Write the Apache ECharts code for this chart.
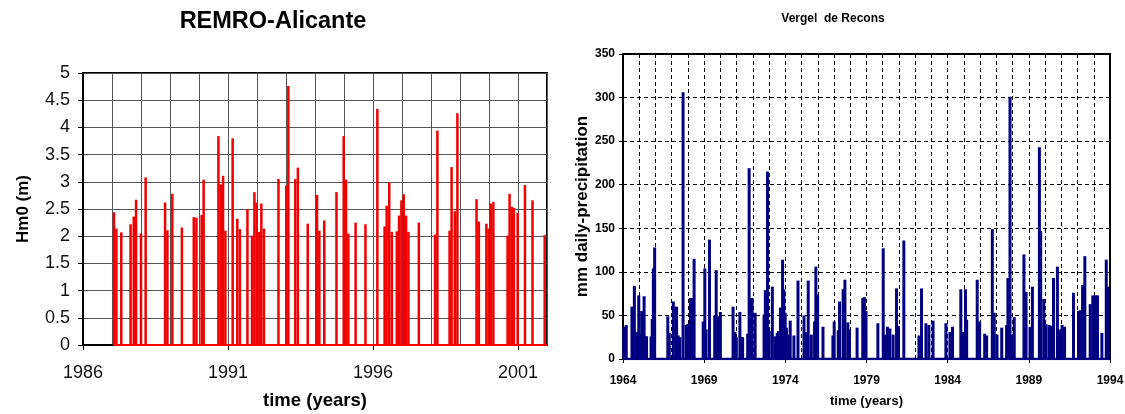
<!DOCTYPE html>
<html><head><meta charset="utf-8">
<script src="https://cdn.jsdelivr.net/npm/echarts@6/dist/echarts.min.js"></script>
<style>html,body{margin:0;padding:0;background:#fff}#c{width:1125px;height:414px}</style>
</head><body><div id="c"></div>
<script>
// ---- REMRO-Alicante: storm peaks (Hm0, m) ----
const waveTime = [1987.07,1987.15,1987.32,1987.64,1987.75,1987.83,1988.00,1988.16,1988.83,1988.91,
  1989.08,1989.41,1989.82,1989.91,1990.09,1990.16,1990.67,1990.75,1990.83,1990.91,
  1991.16,1991.32,1991.41,1991.67,1991.83,1991.91,1991.99,1992.08,1992.15,1992.24,
  1992.74,1993.01,1993.08,1993.32,1993.41,1993.75,1994.07,1994.15,1994.32,1994.74,
  1994.99,1995.07,1995.15,1995.40,1995.74,1996.15,1996.40,1996.47,1996.56,1996.65,
  1996.82,1996.90,1996.98,1997.06,1997.14,1997.22,1997.58,1998.14,1998.22,1998.64,
  1998.71,1998.82,1998.91,1999.57,1999.65,1999.91,1999.99,2000.06,2000.15,2000.64,
  2000.71,2000.79,2000.86,2000.99,2001.24,2001.50,2001.92];
const waveHm0 = [2.44,2.14,2.07,2.22,2.36,2.67,2.05,3.08,2.62,2.11,
  2.78,2.16,2.35,2.34,2.39,3.04,3.84,2.95,3.11,2.10,
  3.80,2.32,2.13,2.50,2.01,2.81,2.62,2.08,2.60,2.14,
  3.05,2.93,4.76,3.05,3.26,2.23,2.76,2.10,2.29,2.81,
  3.84,3.04,2.05,2.25,2.22,4.34,2.18,2.56,2.99,2.08,
  2.09,2.38,2.66,2.77,2.38,2.08,2.25,2.03,3.94,2.10,
  3.27,2.46,4.26,2.68,2.27,2.23,2.14,2.60,2.63,2.01,
  2.78,2.54,2.52,2.43,2.94,2.66,2.02];
const waveBaselineTime = [1987.05, 2002];
const waveTickYears = [1986, 1991, 1996, 2001];

// ---- Vergel de Recons: daily precipitation (mm) ----
const rainTime = [1964.05,1964.2,1964.55,1964.7,1964.85,1964.97,1965.05,1965.15,1965.3,1965.38,
  1965.45,1965.73,1965.8,1965.87,1965.95,1966.76,1966.85,1967.1,1967.25,1967.3,
  1967.4,1967.5,1967.7,1967.89,1967.97,1968.07,1968.15,1968.23,1968.3,1968.38,
  1968.94,1969.04,1969.12,1969.33,1969.65,1969.74,1969.82,1969.92,1970.0,1970.78,
  1970.9,1970.98,1971.2,1971.29,1971.37,1971.68,1971.77,1971.87,1971.95,1972.14,
  1972.69,1972.77,1972.9,1973.01,1973.2,1973.38,1973.5,1973.58,1973.7,1973.83,
  1973.91,1973.99,1974.07,1974.17,1974.3,1974.53,1974.78,1975.15,1975.29,1975.41,
  1975.6,1975.8,1975.88,1975.99,1976.32,1976.93,1977.01,1977.26,1977.34,1977.56,
  1977.67,1977.85,1977.95,1978.42,1978.77,1978.87,1978.97,1979.70,1980.03,1980.15,
  1980.29,1980.44,1980.64,1980.85,1980.97,1981.3,1982.23,1982.39,1982.66,1982.84,
  1983.1,1983.89,1984.14,1984.3,1984.81,1984.96,1985.1,1985.17,1985.82,1985.97,
  1986.28,1986.4,1986.75,1986.87,1987.04,1987.33,1987.63,1987.71,1987.84,1987.96,
  1988.1,1988.7,1988.83,1989.07,1989.22,1989.65,1989.73,1989.92,1990.06,1990.25,
  1990.39,1990.52,1990.76,1990.89,1991.05,1991.2,1991.75,1992.06,1992.16,1992.31,
  1992.45,1992.78,1992.94,1993.09,1993.23,1993.5,1993.77,1993.89];
const rainMm = [37,39,60,84,31,73,28,55,72,26,
  26,26,46,104,128,49,30,66,60,60,
  27,25,306,39,40,31,70,70,31,115,
  43,104,34,137,50,102,49,36,54,60,
  31,25,54,25,25,29,219,70,70,53,
  51,79,215,32,83,26,30,32,59,114,
  80,53,36,28,44,27,90,50,31,90,
  28,43,106,74,37,27,43,33,66,80,
  91,42,34,36,70,71,55,41,127,28,
  37,35,28,81,38,136,27,81,41,39,
  44,41,31,37,80,31,80,45,91,43,
  29,27,149,53,28,36,39,93,301,28,
  48,120,77,37,83,243,147,69,40,39,
  38,93,106,34,39,37,76,55,56,85,
  118,63,73,73,73,30,114,83];
const rainBaselineTime = [1964, 1994];
const rainTickYears = [1964, 1969, 1974, 1979, 1984, 1989, 1994];

const leftFont = 'Liberation Sans, Arial, sans-serif';
const rightFont = 'Liberation Sans Narrow, Liberation Sans, Arial, sans-serif';
const plain = v => String(v);

// grid-line axis (every year) + label axis (every 5 years) for each panel
function gridAxis(gi, min, max, color, type) {
  return {type: 'value', gridIndex: gi, position: 'bottom', min: min, max: max, interval: 1,
    axisLine: {show: true, onZero: false, lineStyle: {color: '#000', width: 2}},
    axisTick: {show: false}, axisLabel: {show: false},
    splitLine: {show: true, lineStyle: {color: color, width: 1, type: type}}};
}

const chart = echarts.init(document.getElementById('c'), null, {renderer: 'canvas'});
chart.setOption({
  animation: false,
  backgroundColor: '#fff',
  title: [
    {text: 'REMRO-Alicante', left: 268, top: 5, textAlign: 'center',
     textStyle: {fontFamily: leftFont, fontWeight: 'bold', fontSize: 23.5, color: '#000'}},
    {text: 'Vergel  de Recons', left: 828, top: 8, textAlign: 'center',
     textStyle: {fontFamily: rightFont, fontWeight: 'bold', fontSize: 12, color: '#000'}}
  ],
  grid: [
    {left: 83, top: 73, width: 464, height: 272, show: true, borderColor: '#000', borderWidth: 2,
     backgroundColor: '#fff', containLabel: false, outerBoundsMode: 'none'},
    {left: 623, top: 54, width: 487, height: 305, show: true, borderColor: '#000', borderWidth: 2,
     backgroundColor: '#fff', containLabel: false, outerBoundsMode: 'none'}
  ],
  xAxis: [
    gridAxis(0, 1986, 2002, '#555', 'solid'),
    gridAxis(1, 1964, 1994, '#000', [4, 3]),
    {type: 'value', gridIndex: 0, position: 'bottom', min: 1986, max: 2002, interval: 1,
     axisLine: {show: false},
     axisTick: {show: true, customValues: waveTickYears, length: 5, lineStyle: {color: '#000'}},
     axisLabel: {customValues: waveTickYears, formatter: plain, fontFamily: leftFont, fontSize: 18, color: '#111', margin: 19},
     splitLine: {show: false},
     name: 'time (years)', nameLocation: 'middle', nameGap: 46,
     nameTextStyle: {fontFamily: leftFont, fontWeight: 'bold', fontSize: 18.5, color: '#000'}},
    {type: 'value', gridIndex: 1, position: 'bottom', min: 1964, max: 1994, interval: 1,
     axisLine: {show: false},
     axisTick: {show: true, customValues: rainTickYears, length: 4, lineStyle: {color: '#000'}},
     axisLabel: {customValues: rainTickYears, formatter: plain, fontFamily: rightFont, fontWeight: 'bold', fontSize: 12, color: '#000', margin: 16},
     splitLine: {show: false},
     name: 'time (years)', nameLocation: 'middle', nameGap: 36,
     nameTextStyle: {fontFamily: rightFont, fontWeight: 'bold', fontSize: 13, color: '#000'}}
  ],
  yAxis: [
    {type: 'value', gridIndex: 0, min: 0, max: 5, interval: 0.5,
     axisLine: {show: true, lineStyle: {color: '#000', width: 2}},
     axisTick: {show: true, length: 5, lineStyle: {color: '#000'}},
     axisLabel: {fontFamily: leftFont, fontSize: 18, color: '#111', margin: 13},
     splitLine: {show: true, lineStyle: {color: '#555', width: 1}},
     name: 'Hm0 (m)', nameLocation: 'middle', nameRotate: 90, nameGap: 51,
     nameTextStyle: {fontFamily: leftFont, fontWeight: 'bold', fontSize: 17, color: '#000'}},
    {type: 'value', gridIndex: 1, min: 0, max: 350, interval: 50,
     axisLine: {show: true, lineStyle: {color: '#000', width: 2}},
     axisTick: {show: true, length: 4, lineStyle: {color: '#000'}},
     axisLabel: {fontFamily: rightFont, fontWeight: 'bold', fontSize: 12, color: '#000', margin: 8},
     splitLine: {show: true, lineStyle: {color: '#000', width: 1, type: [4, 3]}},
     name: 'mm daily-precipitation', nameLocation: 'middle', nameRotate: 90, nameGap: 29,
     nameTextStyle: {fontFamily: rightFont, fontWeight: 'bold', fontSize: 17, color: '#000'}}
  ],
  series: [
    {type: 'line', xAxisIndex: 0, yAxisIndex: 0, symbol: 'none', z: 4,
     data: waveBaselineTime.map(t => [t, 0]), lineStyle: {color: '#ff0000', width: 2}},
    {type: 'bar', xAxisIndex: 0, yAxisIndex: 0, barWidth: 2.5, z: 3,
     data: waveTime.map((t, i) => [t, waveHm0[i]]), itemStyle: {color: '#f00000'}},
    {type: 'line', xAxisIndex: 1, yAxisIndex: 1, symbol: 'none', z: 4,
     data: rainBaselineTime.map(t => [t, 0]), lineStyle: {color: '#000080', width: 2.5}},
    {type: 'bar', xAxisIndex: 1, yAxisIndex: 1, barWidth: 3, z: 3,
     data: rainTime.map((t, i) => [t, rainMm[i]]), itemStyle: {color: '#000080'}}
  ]
});
</script>
</body></html>
